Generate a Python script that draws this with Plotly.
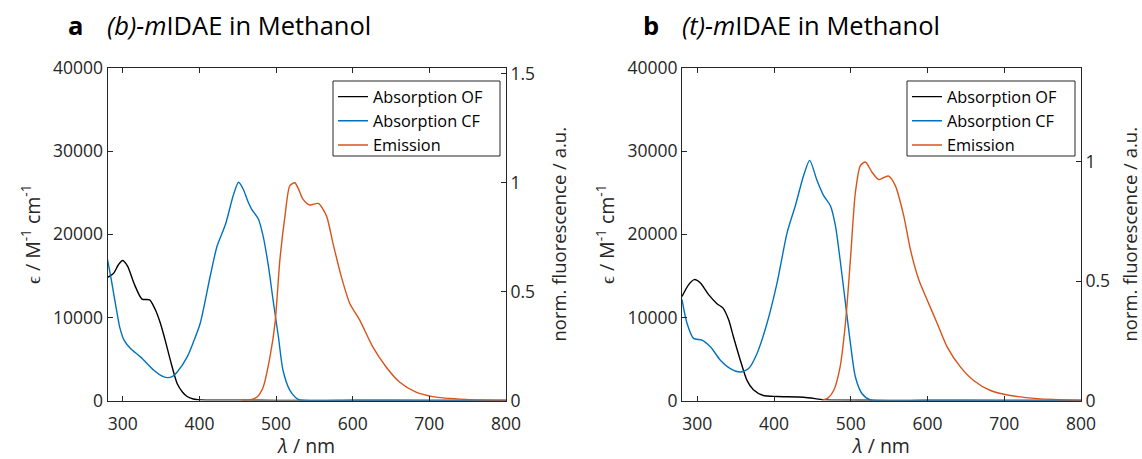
import plotly.graph_objects as go

# ---------------- data ----------------
# Panel a: (b)-mIDAE in Methanol
a_of_wl = [280, 288, 294, 299.5, 306, 315, 325, 335, 342, 349, 356, 362, 371, 378, 384, 392, 401, 450, 500, 600, 700, 800]
a_of_eps = [14800, 15300, 16300, 16850, 16200, 14000, 12200, 12100, 11000, 9290, 7000, 4850, 2020, 1000, 480, 180, 80, 40, 20, 10, 10, 0]

a_cf_wl = [280, 285, 291, 296, 301.6, 310, 323, 340.5, 350, 358, 365, 371, 384, 392, 401, 414, 423, 434, 444, 451, 457, 463, 468, 477, 483, 490, 496, 503, 509, 518, 525, 531, 600, 700, 800]
a_cf_eps = [16970, 14500, 11300, 8800, 7270, 6260, 5250, 3640, 3000, 2750, 2900, 3430, 5250, 7000, 9290, 14950, 18580, 21200, 24640, 26260, 25450, 24000, 23030, 21800, 19800, 16160, 12120, 7670, 3640, 1210, 400, 60, 30, 20, 0]

a_em_wl = [455, 465, 474.8, 483, 492, 498.6, 505, 511.6, 518, 524.5, 530, 535, 544, 555, 565.7, 574, 585, 596, 609, 626, 643.6, 661, 682.6, 704, 747.5, 800]
a_em_norm = [0.0, 0.003, 0.015, 0.06, 0.2, 0.355, 0.648, 0.848, 0.987, 1.0, 0.965, 0.925, 0.898, 0.905, 0.848, 0.725, 0.57, 0.447, 0.37, 0.247, 0.154, 0.085, 0.038, 0.018, 0.005, 0.0]

# Panel b: (t)-mIDAE in Methanol
b_of_wl = [280, 288.7, 296, 304, 314.7, 325.6, 333.5, 340.8, 347, 356, 364.7, 373, 386, 404, 438.5, 464.6, 480, 550, 650, 800]
b_of_eps = [12520, 13940, 14545, 14140, 12730, 11640, 11110, 9700, 7670, 4850, 2420, 1290, 600, 480, 400, 100, 40, 20, 10, 0]

b_cf_wl = [280, 286.5, 295, 306, 317, 330, 343, 356, 366.8, 377.8, 390.8, 403.9, 417, 427.7, 438.5, 446.4, 456, 464.6, 473.4, 480, 486, 493, 499.5, 506, 514.7, 525.5, 600, 700, 800]
b_cf_eps = [12120, 9290, 7470, 7270, 6460, 4850, 3840, 3430, 3840, 5660, 9290, 14140, 20200, 23430, 27070, 28890, 26460, 24640, 23430, 21010, 16970, 11720, 6870, 2830, 810, 60, 30, 20, 0]

b_em_wl = [462, 470, 477.7, 486, 493, 499.5, 506, 512.5, 519, 527.7, 536.3, 543, 549.4, 558, 569, 577.6, 588.5, 599.4, 612.5, 625.5, 642.8, 660, 682, 708, 743, 800]
b_em_norm = [0.0, 0.01, 0.042, 0.14, 0.324, 0.591, 0.873, 0.985, 1.0, 0.957, 0.926, 0.935, 0.941, 0.901, 0.774, 0.634, 0.507, 0.422, 0.324, 0.225, 0.141, 0.084, 0.042, 0.021, 0.008, 0.0]

series_names = ["Absorption OF", "Absorption CF", "Emission"]
panel_titles = ["<i>(b)-m</i>IDAE in Methanol", "<i>(t)-m</i>IDAE in Methanol"]
panel_letters = ["a", "b"]
x_ticks = [300, 400, 500, 600, 700, 800]
left_ticks = [0, 10000, 20000, 30000, 40000]
right_max = [1.527, 1.394]

# ---------------- styling ----------------
W, H = 1142, 459
FONT = "Open Sans"
TXT = "#262626"
C_OF, C_CF, C_EM = "#000000", "#0072BD", "#D95319"
LW = 1.4

fig = go.Figure()

panels = [
    (a_of_wl, a_of_eps, a_cf_wl, a_cf_eps, a_em_wl, a_em_norm),
    (b_of_wl, b_of_eps, b_cf_wl, b_cf_eps, b_em_wl, b_em_norm),
]
xdom = [(107.5 / W, 506 / W), (682 / W, 1081 / W)]
ydom = ((H - 400.5) / H, (H - 68) / H)

for i, (ofw, ofe, cfw, cfe, emw, emn) in enumerate(panels):
    xa = "x" if i == 0 else "x2"
    yl = "y" if i == 0 else "y3"
    yr = "y2" if i == 0 else "y4"
    leg = "legend" if i == 0 else "legend2"
    common = dict(mode="lines", legend=leg, line_shape="spline")
    fig.add_trace(go.Scatter(x=ofw, y=ofe, name=series_names[0], xaxis=xa, yaxis=yl,
                             line=dict(color=C_OF, width=LW, smoothing=0.7), **common))
    fig.add_trace(go.Scatter(x=cfw, y=cfe, name=series_names[1], xaxis=xa, yaxis=yl,
                             line=dict(color=C_CF, width=LW, smoothing=0.7), **common))
    fig.add_trace(go.Scatter(x=emw, y=emn, name=series_names[2], xaxis=xa, yaxis=yr,
                             line=dict(color=C_EM, width=LW, smoothing=0.7), **common))

tickfont = dict(family=FONT, size=17.5, color=TXT)
titlefont = dict(family=FONT, size=19.5, color=TXT)

def xaxis_cfg(i):
    return dict(domain=list(xdom[i]), range=[280, 800], tickvals=x_ticks,
                ticks="inside", ticklen=5, tickcolor=TXT, showline=True, linecolor=TXT,
                linewidth=1, mirror="ticks", showgrid=False, zeroline=False,
                tickfont=tickfont, automargin=False, ticklabelstandoff=7,
                title=dict(text="<i>λ</i> / nm", font=titlefont, standoff=11),
                anchor="y" if i == 0 else "y3")

def yleft_cfg(i):
    return dict(domain=list(ydom), range=[0, 40000], tickvals=left_ticks, tickformat="d",
                ticks="inside", ticklen=5, tickcolor=TXT, showline=True, linecolor=TXT,
                linewidth=1, showgrid=False, zeroline=False, tickfont=tickfont, automargin=False,
                title=dict(text="ϵ / M<sup>-1</sup> cm<sup>-1</sup>", font=titlefont, standoff=7),
                anchor="x" if i == 0 else "x2")

def yright_cfg(i):
    return dict(range=[0, right_max[i]], dtick=0.5, tick0=0, side="right",
                overlaying="y" if i == 0 else "y3", anchor="x" if i == 0 else "x2",
                ticks="inside", ticklen=5, tickcolor=TXT, showline=True, linecolor=TXT,
                linewidth=1, showgrid=False, zeroline=False, tickfont=tickfont, automargin=False,
                title=dict(text="norm. fluorescence / a.u.", font=dict(family=FONT, size=18.5, color=TXT),
                           standoff=18))

legend_common = dict(bgcolor="rgba(0,0,0,0)", borderwidth=0,
                     font=dict(family=FONT, size=16.3, color="#000000"),
                     itemwidth=30, tracegroupgap=0, xanchor="left", yanchor="top",
                     yref="paper", xref="paper")

fig.update_layout(
    width=W, height=H, margin=dict(l=0, r=0, t=0, b=0),
    paper_bgcolor="white", plot_bgcolor="white",
    xaxis=xaxis_cfg(0), yaxis=yleft_cfg(0), yaxis2=yright_cfg(0),
    xaxis2=xaxis_cfg(1), yaxis3=yleft_cfg(1), yaxis4=yright_cfg(1),
    legend=dict(x=333 / W, y=1 - 79.5 / H, **legend_common),
    legend2=dict(x=907 / W, y=1 - 79.5 / H, **legend_common),
    font=dict(family=FONT, color=TXT),
)

# legend frames (white box with thin border behind legend entries)
legend_boxes = [(333, 500, 81, 156), (907, 1075, 81, 156)]
for (x0, x1, y0, y1) in legend_boxes:
    fig.add_shape(type="rect", xref="paper", yref="paper",
                  x0=x0 / W, x1=x1 / W, y0=1 - y1 / H, y1=1 - y0 / H,
                  line=dict(color=TXT, width=1), fillcolor="white", layer="above")

letter_x = [66, 641]
title_x = [105, 680]
for i in range(2):
    fig.add_annotation(text="<b>%s</b>" % panel_letters[i], x=letter_x[i] / W, y=1 - 25 / H,
                       xref="paper", yref="paper", xanchor="left", yanchor="middle",
                       showarrow=False, font=dict(family=FONT, size=25.5, color="#000000"))
    fig.add_annotation(text=panel_titles[i], x=title_x[i] / W, y=1 - 25 / H,
                       xref="paper", yref="paper", xanchor="left", yanchor="middle",
                       showarrow=False, font=dict(family=FONT, size=25.5, color="#000000"))

fig.write_html("out.html")
